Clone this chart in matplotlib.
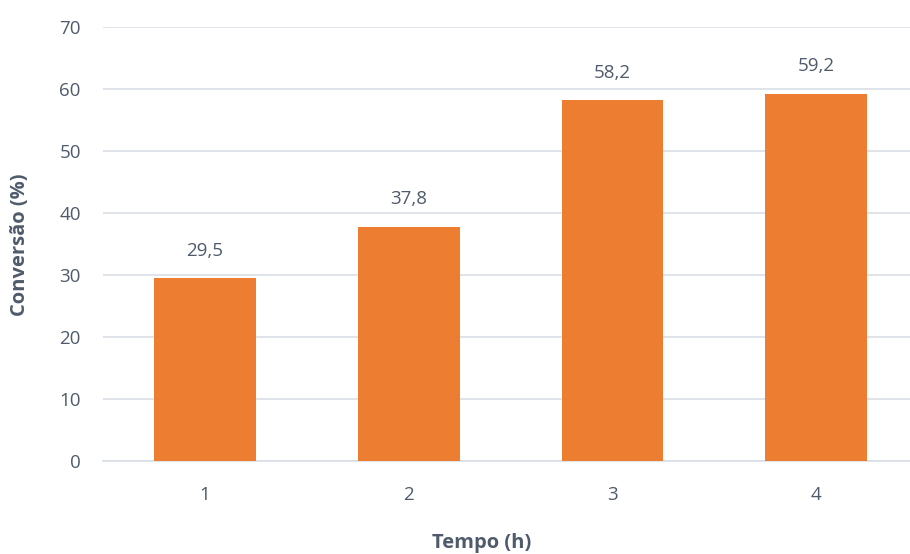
import matplotlib.pyplot as plt

# Conversion over reaction time
tempos = ["1", "2", "3", "4"]
conversao = [29.5, 37.8, 58.2, 59.2]
y_ticks = [0, 10, 20, 30, 40, 50, 60, 70]

plt.rcParams['font.family'] = ['Open Sans', 'DejaVu Sans']
text_color = '#4f5b6b'
bar_color = '#ED7D31'
grid_color = '#D9DEE6'

fig = plt.figure(figsize=(9.10, 5.54), dpi=100)
ax = fig.add_axes([103 / 910, 93 / 554, 807 / 910, 434 / 554])

x = list(range(1, len(tempos) + 1))
ax.bar(x, conversao, width=0.5, color=bar_color, zorder=3)

for xi, v in zip(x, conversao):
    ax.text(xi, v + 3.0, f"{v:.1f}".replace('.', ','), ha='center', va='bottom',
            fontsize=13.5, color=text_color)

ax.set_xlim(0.5, 4.46)
ax.set_ylim(0, 70)
ax.set_yticks(y_ticks)
ax.set_xticks(x)
ax.set_xticklabels(tempos)
ax.yaxis.grid(True, color=grid_color, linewidth=1.2, zorder=0)
ax.set_axisbelow(True)

for s in ['top', 'right', 'left']:
    ax.spines[s].set_visible(False)
ax.spines['bottom'].set_color(grid_color)
ax.spines['bottom'].set_linewidth(1.2)

ax.tick_params(axis='both', length=0, labelsize=13.5, colors=text_color)
ax.tick_params(axis='y', pad=16)
ax.tick_params(axis='x', pad=18)

fig.text(20 / 910, 1 - 245 / 554, "Conversão (%)", rotation=90, ha='center', va='center',
         fontsize=14.5, fontweight='bold', color=text_color)
fig.text(482 / 910, 1 - 543 / 554, "Tempo (h)", ha='center', va='center',
         fontsize=14.5, fontweight='bold', color=text_color)

fig.savefig("out.png", dpi=100)
